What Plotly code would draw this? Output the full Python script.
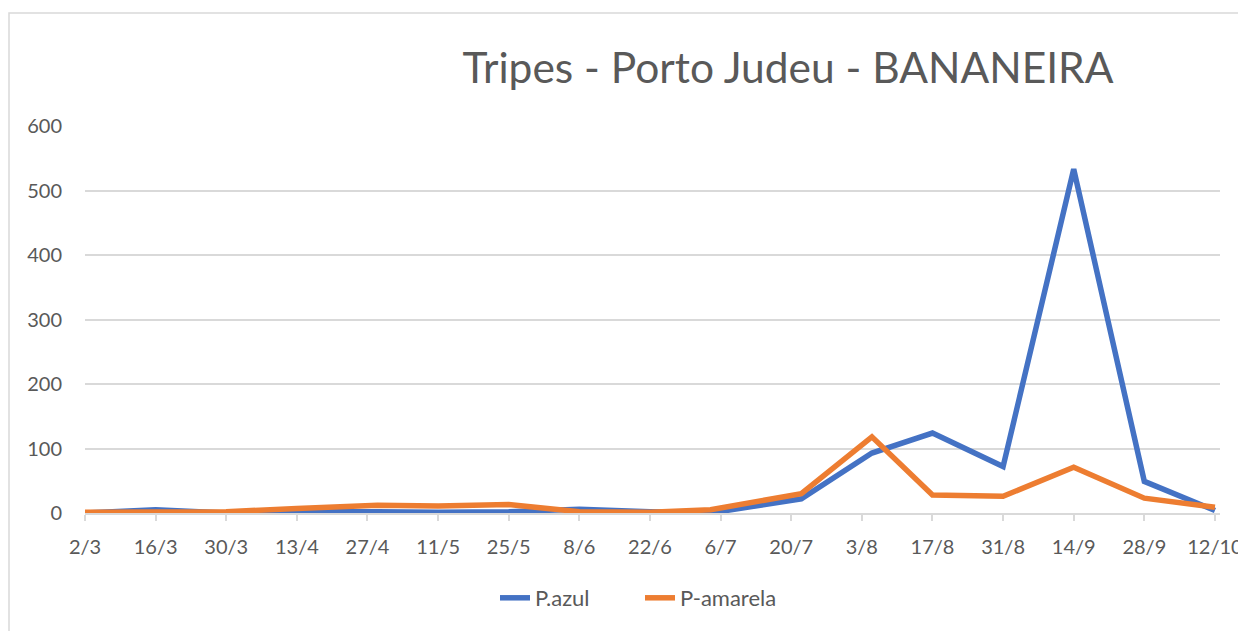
import plotly.graph_objects as go

# ---- data ----
dates = ["2020-03-02", "2020-03-16", "2020-03-30", "2020-04-13", "2020-04-29",
         "2020-05-11", "2020-05-25", "2020-06-08", "2020-06-22", "2020-07-04",
         "2020-07-22", "2020-08-05", "2020-08-17", "2020-08-31", "2020-09-14",
         "2020-09-28", "2020-10-12"]
p_azul = [0, 5, 0, 2, 2, 1, 2, 6, 2, 0, 22, 93, 124, 72, 533, 49, 4]
p_amarela = [1, 1, 2, 7, 12, 11, 13, 2, 1, 5, 30, 118, 28, 26, 71, 23, 9]
y_ticks = [0, 100, 200, 300, 400, 500, 600]
title_text = "Tripes - Porto Judeu - BANANEIRA"

# page body has an 8px margin; work in reference pixel coords minus 8
OFF = 8
W, H = 1246 - OFF, 631 - OFF
L = 85 - OFF
T = 126 - OFF
R = W - (1220 - OFF)
B = H - (513 - OFF)
pw = W - L - R
ph = H - T - B
y_base = 513 - OFF

fig = go.Figure()
fig.add_trace(go.Scatter(x=dates, y=p_azul, mode="lines", name="P.azul",
                         line=dict(color="#4472C4", width=5.5)))
fig.add_trace(go.Scatter(x=dates, y=p_amarela, mode="lines", name="P-amarela",
                         line=dict(color="#ED7D31", width=5.5)))

font = "Lato, 'Noto Sans', sans-serif"
fig.update_layout(
    width=W, height=H,
    margin=dict(l=L, r=R, t=T, b=B, autoexpand=False),
    paper_bgcolor="white", plot_bgcolor="white",
    font=dict(family=font, size=20, color="#595959"),
    title=dict(text=title_text, x=(788 - OFF) / W, xanchor="center",
               y=1 - (68 - OFF) / H, yanchor="middle",
               font=dict(family=font, size=42.5, color="#595959")),
    showlegend=True,
    legend=dict(orientation="h", x=(640 - OFF - L) / pw, xanchor="center",
                y=-((598 - OFF) - y_base) / ph, yanchor="middle",
                entrywidth=100, entrywidthmode="pixels",
                font=dict(size=22, color="#595959"), bgcolor="rgba(0,0,0,0)"),
    xaxis=dict(type="date", range=["2020-03-02", "2020-10-13"],
               tick0="2020-03-02", dtick=14 * 86400000, tickformat="%-d/%-m",
               showgrid=False, showline=True, linecolor="#D9D9D9", linewidth=1.75,
               ticks="outside", ticklen=6, tickcolor="#D9D9D9", tickwidth=1.75,
               ticklabelstandoff=9,
               tickfont=dict(size=20, color="#595959"), zeroline=False,
               fixedrange=True),
    yaxis=dict(range=[0, 600], tickvals=y_ticks, showgrid=True,
               gridcolor="#D9D9D9", gridwidth=1.75, zeroline=False,
               showline=False, ticks="", ticklabelstandoff=22,
               tickfont=dict(size=20, color="#595959"), fixedrange=True),
)

# chart-area border (extends past the picture on the right and bottom)
fig.add_shape(type="rect", xref="paper", yref="paper",
              x0=(9 - OFF - L) / pw, x1=(1700 - L) / pw,
              y0=-(800 - y_base) / ph, y1=(y_base - (13 - OFF)) / ph,
              line=dict(color="#D9D9D9", width=1.5), layer="below")

fig.write_html("out.html")
